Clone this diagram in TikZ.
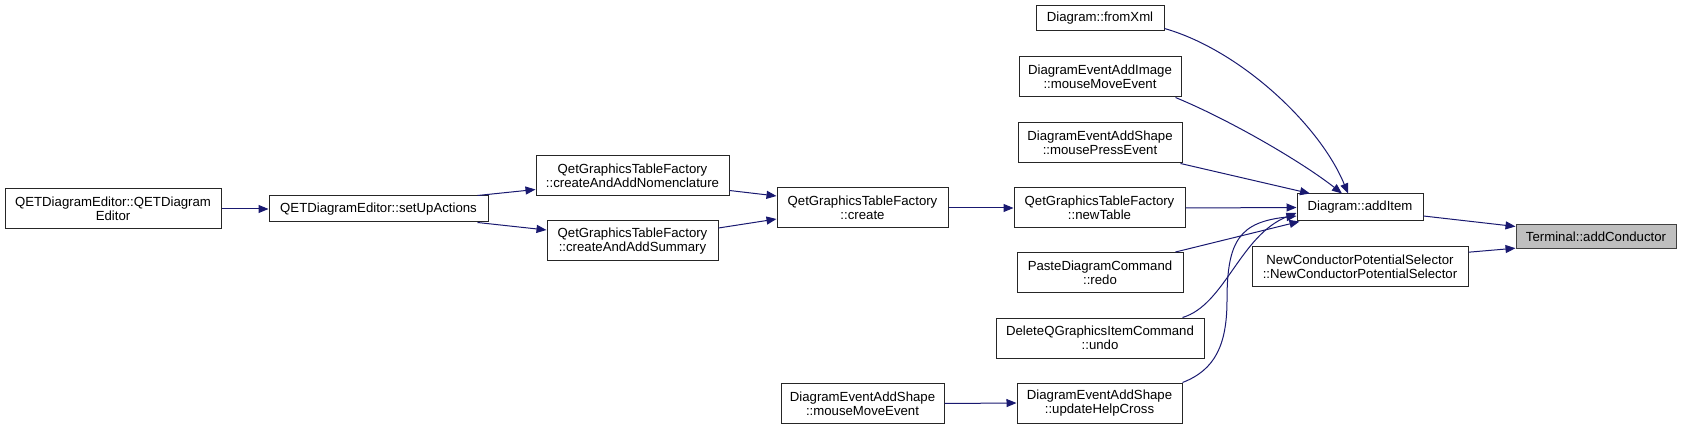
\documentclass[tikz,border=0pt]{standalone}
\usepackage{fontspec}
\setmainfont{Liberation Sans}
\usetikzlibrary{arrows.meta}
\definecolor{edgeblue}{HTML}{191970}
\definecolor{focusgray}{HTML}{BFBFBF}
\tikzset{
  box/.style={draw=black!85, line width=1pt, fill=white, inner sep=0pt, align=center,
    font=\fontsize{13.2}{14.3}\selectfont},
  focus/.style={box, fill=focusgray, draw=black!75},
  edge/.style={draw=edgeblue, line width=1pt, -{Triangle[length=10pt,width=8pt]}},
}
\begin{document}
\begin{tikzpicture}[x=1pt,y=-1pt]
\useasboundingbox (0,0) rectangle (1681,430);
% nodes
\node[box, minimum width=216pt, minimum height=40pt] (qde) at (113,209) {QETDiagramEditor::QETDiagram\\Editor};
\node[box, minimum width=219pt, minimum height=26pt] (setup) at (378.5,209) {QETDiagramEditor::setUpActions};
\node[box, minimum width=193pt, minimum height=40pt] (nom) at (632.5,176) {QetGraphicsTableFactory\\::createAndAddNomenclature};
\node[box, minimum width=171pt, minimum height=40pt] (sum) at (632.5,241) {QetGraphicsTableFactory\\::createAndAddSummary};
\node[box, minimum width=171pt, minimum height=40pt] (create) at (862.5,208) {QetGraphicsTableFactory\\::create};
\node[box, minimum width=128pt, minimum height=25pt] (fromxml) at (1100,18.5) {Diagram::fromXml};
\node[box, minimum width=162pt, minimum height=40pt] (addimg) at (1100,77) {DiagramEventAddImage\\::mouseMoveEvent};
\node[box, minimum width=164pt, minimum height=40pt] (press) at (1100,143) {DiagramEventAddShape\\::mousePressEvent};
\node[box, minimum width=171pt, minimum height=40pt] (newtable) at (1099.5,208) {QetGraphicsTableFactory\\::newTable};
\node[box, minimum width=166pt, minimum height=40pt] (paste) at (1100,272.5) {PasteDiagramCommand\\::redo};
\node[box, minimum width=208pt, minimum height=40pt] (delete) at (1100,338) {DeleteQGraphicsItemCommand\\::undo};
\node[box, minimum width=165pt, minimum height=40pt] (cross) at (1099.5,403) {DiagramEventAddShape\\::updateHelpCross};
\node[box, minimum width=163pt, minimum height=40pt] (mme) at (862.5,403.5) {DiagramEventAddShape\\::mouseMoveEvent};
\node[box, minimum width=126pt, minimum height=27pt] (additem) at (1360,207.5) {Diagram::addItem};
\node[box, minimum width=216pt, minimum height=40pt] (ncps) at (1360,267) {NewConductorPotentialSelector\\::NewConductorPotentialSelector};
\node[focus, minimum width=160pt, minimum height=24pt] (term) at (1596,237) {Terminal::addConductor};
% edges
\draw[edge] (qde.east) -- (setup.west);
\draw[edge] ([xshift=-11pt]setup.north east) -- ([yshift=7pt]nom.south west);
\draw[edge] ([xshift=-11pt]setup.south east) -- ([yshift=11pt]sum.west);
\draw[edge] ([yshift=6pt]nom.south east) -- ([yshift=12pt]create.west);
\draw[edge] ([yshift=13pt]sum.east) -- ([yshift=-11pt]create.west);
\draw[edge] (create.east) -- (newtable.west);
\draw[edge] (mme.east) -- (cross.west);
\draw[edge] ([yshift=3pt]fromxml.south east) .. controls (1240,50) and (1320,125) .. ([xshift=-12pt]additem.north);
\draw[edge] ([xshift=-6pt]addimg.south east) .. controls (1230,120) and (1302,162) .. ([xshift=-18pt]additem.north);
\draw[edge] ([xshift=-2pt]press.south east) -- ([xshift=-50pt]additem.north);
\draw[edge] (newtable.east) -- (additem.west);
\draw[edge] ([xshift=-8pt]paste.north east) -- ([xshift=3pt]additem.south west);
\draw[edge] ([xshift=-22pt]delete.north east) .. controls (1225,305) and (1240,235) .. ([yshift=-5.5pt]additem.west);
\draw[edge] (cross.north east) .. controls (1215,370) and (1227,345) .. (1227,300) .. controls (1227,240) and (1240,222) .. ([yshift=-8.5pt]additem.west);
\draw[edge] ([yshift=-8.5pt]additem.east) -- ([yshift=-2pt]term.north west);
\draw[edge] ([yshift=-5.7pt]ncps.north east) -- ([yshift=1.3pt]term.south west);
\end{tikzpicture}
\end{document}
